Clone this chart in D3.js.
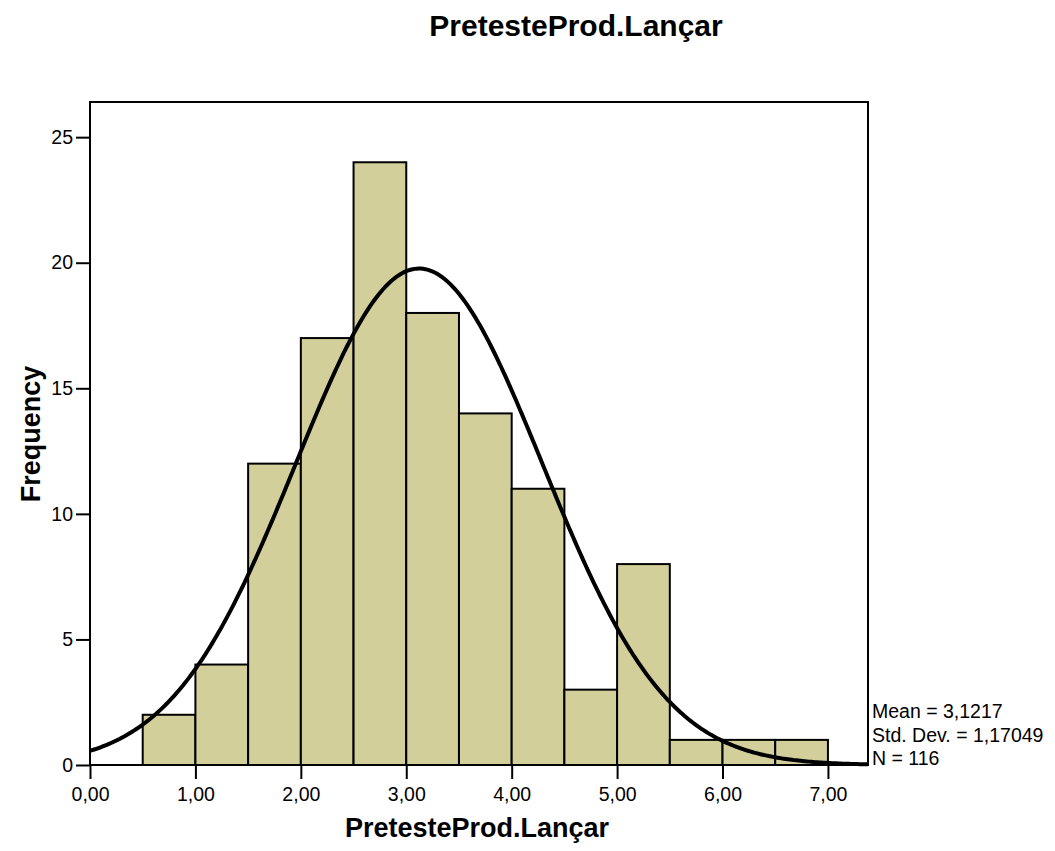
<!DOCTYPE html>
<html><head><meta charset="utf-8">
<script src="https://cdn.jsdelivr.net/npm/d3@7"></script>
<style>body{margin:0;background:#fff}text{font-family:"Liberation Sans",Arial,sans-serif}</style>
</head><body>
<svg id="c" width="1055" height="851"></svg>
<script>
const binStarts = [0.5,1.0,1.5,2.0,2.5,3.0,3.5,4.0,4.5,5.0,5.5,6.0,6.5];
const binWidth = 0.5;
const counts = [2,4,12,17,24,18,14,11,3,8,1,1,1];
const xTicks = [0,1,2,3,4,5,6,7];
const yTicks = [0,5,10,15,20,25];
const statMean = 3.1217, statSd = 1.17049, statN = 116;
const statLabels = ["Mean = 3,1217","Std. Dev. = 1,17049","N = 116"];
const title = "PretesteProd.Lançar";

const svg = d3.select("#c");
const L=90,R=868,T=102,B=765;
const x = d3.scaleLinear().domain([0,7.38]).range([L,R]);
const y = d3.scaleLinear().domain([0,26.4]).range([B,T]);

svg.append("g").selectAll("rect").data(binStarts).join("rect")
  .attr("x",d=>x(d)).attr("width",(d)=>x(d+binWidth)-x(d))
  .attr("y",(d,i)=>y(counts[i])).attr("height",(d,i)=>y(0)-y(counts[i]))
  .attr("fill","#d3cf9a").attr("stroke","#000").attr("stroke-width",2);

// fitted normal curve from mean, sd, N
const pts = d3.range(0,7.38+1e-9,0.02).map(v=>[v, statN*binWidth/(statSd*Math.sqrt(2*Math.PI))*Math.exp(-0.5*((v-statMean)/statSd)**2)]);
svg.append("path").datum(pts).attr("d",d3.line().x(d=>x(d[0])).y(d=>y(d[1])))
  .attr("fill","none").attr("stroke","#000").attr("stroke-width",4);

svg.append("rect").attr("x",L).attr("y",T).attr("width",R-L).attr("height",B-T)
  .attr("fill","none").attr("stroke","#000").attr("stroke-width",2);

const fmt = v=>v.toFixed(2).replace(".",",");
const xa = svg.append("g").attr("transform",`translate(0,${B})`)
  .call(d3.axisBottom(x).tickValues(xTicks).tickFormat(fmt).tickSize(14).tickPadding(8));
const ya = svg.append("g").attr("transform",`translate(${L},0)`)
  .call(d3.axisLeft(y).tickValues(yTicks).tickSize(14).tickPadding(3));
[xa,ya].forEach(a=>{a.select(".domain").remove();a.selectAll("line").attr("stroke","#000").attr("stroke-width",2);
  a.selectAll("text").attr("font-size",19.5).attr("fill","#000").attr("font-family","Liberation Sans, Arial, sans-serif");});

svg.append("text").attr("x",576).attr("y",36).attr("text-anchor","middle")
  .attr("font-size",30).attr("font-weight","bold").text(title);
svg.append("text").attr("x",477).attr("y",837).attr("text-anchor","middle")
  .attr("font-size",27).attr("font-weight","bold").text(title);
svg.append("text").attr("transform",`translate(40,434) rotate(-90)`).attr("text-anchor","middle")
  .attr("font-size",27).attr("font-weight","bold").text("Frequency");
svg.append("g").selectAll("text").data(statLabels).join("text")
  .attr("x",872).attr("y",(d,i)=>718+i*23.5).attr("font-size",19.5).text(d=>d);
</script>
</body></html>
